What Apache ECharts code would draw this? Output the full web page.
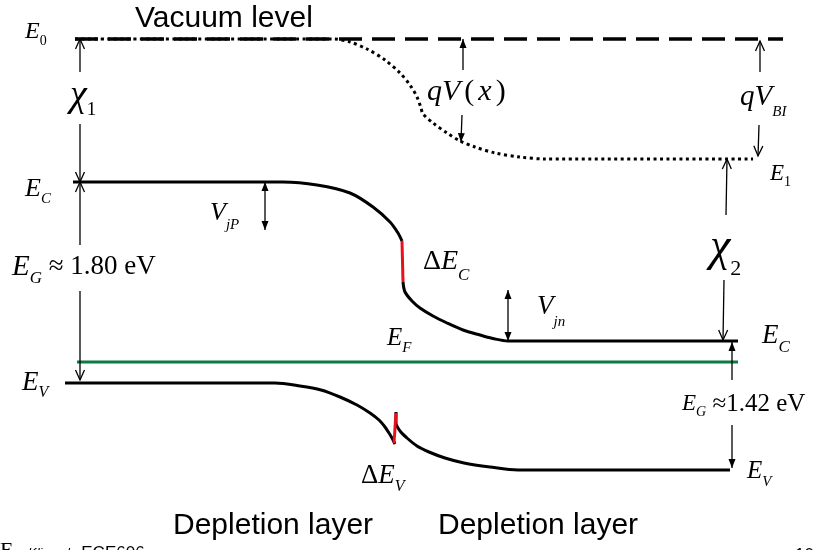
<!DOCTYPE html>
<html><head><meta charset="utf-8">
<script src="https://cdn.jsdelivr.net/npm/echarts@6/dist/echarts.min.js"></script>
<style>html,body{margin:0;padding:0;background:#fff}#c{width:830px;height:550px}</style>
</head><body><div id="c"></div>
<script>
// ---- energy levels (x along device, y = energy, drawing units) ----
const vacuumFlat = [[75,39],[783,39]];
const vacuumLocal = [[75,39],[333,39],[350,42],[367,49],[385,60],[400,73],[410,85],[417,97],[421,108],[423,114],[433,123],[447,133],[460,141],[475,147],[495,153],[520,157],[545,159],[753,159]];
const ecP = [[73,182],[283,182],[317,185],[350,193],[373,207],[390,222],[398,233],[402,241]];
const ecOffset = [[402,241],[403,282]];
const ecN = [[403,282],[405,292],[412,301],[420,308],[433,316],[447,323],[463,330],[480,335],[495,339],[508,341],[738,341]];
const evP = [[65,383],[275,383],[300,386],[321,390],[340,397],[357,405],[370,413],[379,420],[385,427],[389,433],[392,438],[395,444]];
const evOffset = [[394,443],[396,413]];
const evN = [[396,412],[396,423],[400,431],[407,438],[417,446],[429,452],[445,458],[464,463],[490,467],[518,470],[730,470]];
const fermi = [[77,362],[738,362]];

// arrows: [x1, y1, x2, y2, head at 1, head at 2]  (0 none, 1 filled, 2 open)
const arrows = [
  [80,39,80,72,2,0],
  [80,124,80,182,0,2],
  [80,182,80,245,2,0],
  [80,291,80,380,0,2],
  [265,182,265,230,1,1],
  [463,39,463,70,1,0],
  [462,115,461,142,0,1],
  [760,41,760,72,2,0],
  [759,125,758,156,0,2],
  [727,159,726,215,2,0],
  [724,280,723,340,0,2],
  [508,290,508,341,1,1],
  [732,342,732,380,1,0],
  [732,425,732,468,0,1]
];

// text annotations: [x, y, text, style]
const labels = [
  [25,32,'{m|E}{d|0}','e0'],
  [25,189,'{m|E}{s|C}','ecl'],
  [70,96,'{m|χ}{d|1}','chi1'],
  [12,267,'{m|E}{s|G}{u| ≈ 1.80 eV}','eg1'],
  [22,383,'{m|E}{s|V}','evl'],
  [210,213,'{m|V}{s|jP}','vjp'],
  [423,262,'{u|Δ}{m|E}{s|C}','dec'],
  [537,307,'{m|V}{s|jn}','vjn'],
  [387,338,'{m|E}{s|F}','ef'],
  [762,336,'{m|E}{s|C}','ecr'],
  [710,248,'{m|χ}{d|2}','chi2'],
  [770,174,'{m|E}{d|1}','e1'],
  [427,92,'{m|q}{m|V}{p|(}{m|x}{p|)}','qv'],
  [740,97,'{m|qV}{s|BI}','qvbi'],
  [682,404,'{m|E}{s|G}{u| ≈1.42 eV}','eg2'],
  [747,471,'{m|E}{s|V}','evr'],
  [361,476,'{u|Δ}{m|E}{s|V}','dev'],
  [135,19,'Vacuum level','sans'],
  [173,526,'Depletion layer','sans'],
  [438,526,'Depletion layer','sans'],
  [0,551,'E','foot1'],
  [28,553,'{k|Klimeck}  {n|ECE606}','foot2'],
  [795,555,'10','foot3']
];

const serif = '"Liberation Serif","Times New Roman",serif';
const sans = '"Liberation Sans",Arial,sans-serif';
function mathStyle(fm, fs, P, fu) {
  fu = fu || fm;
  return {
    font: 'italic ' + fm + 'px ' + serif,
    rich: {
      m: {font: 'italic ' + fm + 'px ' + serif, lineHeight: fm},
      u: {font: fu + 'px ' + serif, lineHeight: fm},
      p: {font: fm + 'px ' + serif, lineHeight: fm, padding: [0,4,0,4]},
      s: {font: 'italic ' + fs + 'px ' + serif, lineHeight: fs, padding: [P,0,0,0]},
      d: {font: fs + 'px ' + serif, lineHeight: fs, padding: [P,0,0,0]}
    }
  };
}
const labelStyles = {
  e0: mathStyle(24,14,18),
  ecl: mathStyle(26,15,20),
  chi1: mathStyle(38,19,28),
  eg1: mathStyle(29,17,23,27),
  evl: mathStyle(27,16,20),
  vjp: mathStyle(26,15,25),
  dec: mathStyle(28,17,28),
  vjn: mathStyle(27,15,30),
  ef: mathStyle(25,15,21),
  ecr: mathStyle(27,17,23),
  chi2: mathStyle(46,22,42),
  e1: mathStyle(23,14,17),
  qv: mathStyle(30,15,20),
  qvbi: mathStyle(29,15,31),
  eg2: mathStyle(23,14,17,25),
  evr: mathStyle(25,15,23),
  dev: mathStyle(27,16,22),
  sans: {font: '30px ' + sans},
  foot1: {font: '22px ' + serif},
  foot2: {font: '14px ' + sans, rich: {k: {font: 'italic 13px ' + sans}, n: {font: '17px ' + sans}}},
  foot3: {font: '17px ' + sans}
};

function lineSeries(data, color, width, type, smooth) {
  return {type: 'line', data: data, showSymbol: false, symbol: 'none', smooth: smooth || false,
    lineStyle: {color: color, width: width, type: type || 'solid', cap: 'butt'}, z: 2, silent: true};
}

const chart = echarts.init(document.getElementById('c'), null, {renderer: 'canvas'});
chart.setOption({
  animation: false,
  backgroundColor: '#fff',
  grid: {left: 0, right: 0, top: 0, bottom: 0},
  xAxis: {type: 'value', min: 0, max: 830, show: false},
  yAxis: {type: 'value', min: 0, max: 550, inverse: true, show: false},
  series: [
    lineSeries(vacuumFlat, '#000', 3.5, [23,10]),
    lineSeries(vacuumLocal, '#000', 3, [3,3.5], 0.3),
    lineSeries(ecP, '#000', 3, 'solid', 0.3),
    lineSeries(ecN, '#000', 3, 'solid', 0.3),
    lineSeries(evP, '#000', 3, 'solid', 0.3),
    lineSeries(evN, '#000', 3, 'solid', 0.3),
    lineSeries(fermi, '#0b7b43', 3.2),
    lineSeries(ecOffset, '#e8101a', 3),
    lineSeries(evOffset, '#e8101a', 3),
    {
      type: 'custom', coordinateSystem: 'cartesian2d', silent: true, z: 3,
      data: arrows,
      renderItem: function (params, api) {
        const p1 = api.coord([api.value(0), api.value(1)]);
        const p2 = api.coord([api.value(2), api.value(3)]);
        const children = [{type: 'line', shape: {x1: p1[0], y1: p1[1], x2: p2[0], y2: p2[1]},
          style: {stroke: '#000', lineWidth: 1.3}}];
        function head(tip, from, kind) {
          if (!kind) return;
          const dx = tip[0] - from[0], dy = tip[1] - from[1];
          const len = Math.hypot(dx, dy) || 1;
          const ux = dx / len, uy = dy / len, nx = -uy, ny = ux;
          const L = kind === 1 ? 9 : 10, W = kind === 1 ? 3.5 : 4.5;
          const b1 = [tip[0] - ux * L + nx * W, tip[1] - uy * L + ny * W];
          const b2 = [tip[0] - ux * L - nx * W, tip[1] - uy * L - ny * W];
          if (kind === 1) {
            children.push({type: 'polygon', shape: {points: [tip, b1, b2]}, style: {fill: '#000'}});
          } else {
            children.push({type: 'polyline', shape: {points: [b1, tip, b2]}, style: {stroke: '#000', lineWidth: 1.3, fill: null}});
          }
        }
        head(p1, p2, api.value(4));
        head(p2, p1, api.value(5));
        return {type: 'group', children: children};
      }
    },
    {
      type: 'custom', coordinateSystem: 'cartesian2d', silent: true, z: 4,
      data: labels.map(function (l) { return [l[0], l[1]]; }),
      renderItem: function (params, api) {
        const L = labels[params.dataIndex];
        const p = api.coord([api.value(0), api.value(1)]);
        const st = labelStyles[L[3]];
        const style = {text: L[2], font: st.font, fill: '#000', align: 'left', verticalAlign: 'middle'};
        if (st.rich) style.rich = st.rich;
        return {type: 'text', x: p[0], y: p[1], style: style};
      }
    }
  ]
});
</script>
</body></html>
